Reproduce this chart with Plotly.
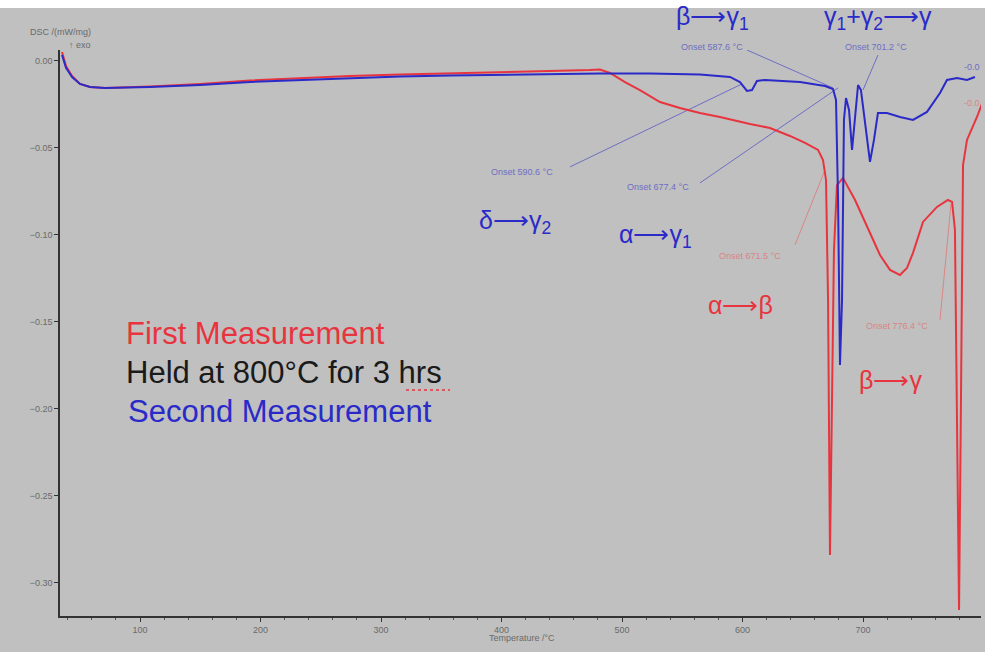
import plotly.graph_objects as go

# --- DSC heating curves: temperature (°C) and heat flow (mW/mg) ---
second_T = [35.3, 38.6, 43.6, 50.2, 58.5, 71.0, 108.3, 149.8, 191.3, 232.8, 274.3, 315.8,
            357.3, 398.8, 440.2, 481.7, 523.2, 564.7, 589.6, 597.9, 603.7, 607.9, 612.0,
            618.7, 647.7, 668.5, 675.1, 677.6, 679.3, 680.9, 682.6, 684.2, 685.9, 688.4,
            690.9, 693.4, 695.9, 698.3, 702.5, 705.8, 709.1, 712.4, 719.9, 730.7, 741.5,
            753.1, 763.9, 769.7, 778.0, 786.3, 792.9]
second_dsc = [0.0034, -0.0040, -0.0092, -0.0132, -0.0149, -0.0155, -0.0149, -0.0138, -0.0121,
              -0.0109, -0.0098, -0.0089, -0.0083, -0.0078, -0.0075, -0.0072, -0.0072, -0.0078,
              -0.0092, -0.0121, -0.0172, -0.0167, -0.0115, -0.0109, -0.0121, -0.0144, -0.0161,
              -0.0224, -0.0799, -0.1747, -0.1374, -0.0339, -0.0213, -0.0282, -0.0511, -0.0339,
              -0.0138, -0.0167, -0.0397, -0.0580, -0.0454, -0.0299, -0.0299, -0.0322, -0.0339,
              -0.0293, -0.0184, -0.0109, -0.0098, -0.0109, -0.0092]

first_T = [35.3, 38.6, 43.6, 50.2, 58.5, 71.0, 108.3, 149.8, 191.3, 232.8, 274.3, 315.8,
           357.3, 398.8, 440.2, 473.4, 481.7, 490.0, 502.5, 514.9, 531.5, 548.1, 564.7,
           581.3, 606.2, 622.8, 639.4, 651.9, 662.7, 666.8, 669.3, 671.0, 672.6, 674.3,
           675.9, 678.4, 683.4, 693.4, 703.3, 714.1, 722.4, 730.7, 736.5, 741.5, 749.8,
           761.4, 770.5, 773.9, 776.3, 778.0, 779.7, 781.3, 783.0, 786.3, 794.6, 801.2]
first_dsc = [0.0052, -0.0029, -0.0086, -0.0132, -0.0149, -0.0155, -0.0147, -0.0132, -0.0112,
             -0.0098, -0.0086, -0.0078, -0.0072, -0.0066, -0.0060, -0.0052, -0.0049, -0.0069,
             -0.0121, -0.0167, -0.0236, -0.0270, -0.0299, -0.0322, -0.0362, -0.0385, -0.0431,
             -0.0471, -0.0511, -0.0569, -0.0684, -0.1374, -0.2839, -0.1948, -0.1086, -0.0713,
             -0.0672, -0.0799, -0.0954, -0.1115, -0.1201, -0.1230, -0.1190, -0.1103, -0.0925,
             -0.0839, -0.0799, -0.0810, -0.0971, -0.1948, -0.3155, -0.1948, -0.0598, -0.0454,
             -0.0322, -0.0200]

# onset evaluation leader lines (start T, start DSC, end T, end DSC) and their labels
second_onsets = [
    ("Onset 590.6 °C", (456.8, -0.0609, 599.6, -0.0132)),
    ("Onset 677.4 °C", (564.7, -0.0701, 679.3, -0.0155)),
    ("Onset 587.6 °C", (603.7, 0.0063, 675.1, -0.0155)),
    ("Onset 701.2 °C", (712.4, 0.0034, 700.0, -0.0167)),
]
first_onsets = [
    ("Onset 671.5 °C", (643.6, -0.1057, 668.5, -0.0626)),
    ("Onset 776.4 °C", (763.9, -0.1489, 773.0, -0.0822)),
]

x_ticks = [100, 200, 300, 400, 500, 600, 700]
y_ticks = [0.00, -0.05, -0.10, -0.15, -0.20, -0.25, -0.30]

RED = "#e8343e"
BLUE = "#2a2ac8"
BLUE_THIN = "#6e6ec4"
RED_THIN = "#d98585"
TICK_GREY = "#6a6a6a"
FONT = "Liberation Sans, Arial, sans-serif"

W, H = 985, 652
M_L, M_R, M_T, M_B = 60, 4, 50, 36
PW, PH = W - M_L - M_R, H - M_T - M_B


def paper(xp, yp):
    """Pixel position on the page -> paper coordinates."""
    return (xp - M_L) / PW, (H - M_B - yp) / PH


fig = go.Figure()

for _, (t0, d0, t1, d1) in second_onsets:
    fig.add_trace(go.Scatter(x=[t0, t1], y=[d0, d1], mode="lines",
                             line=dict(color=BLUE_THIN, width=1), hoverinfo="skip"))
for _, (t0, d0, t1, d1) in first_onsets:
    fig.add_trace(go.Scatter(x=[t0, t1], y=[d0, d1], mode="lines",
                             line=dict(color=RED_THIN, width=1), hoverinfo="skip"))

fig.add_trace(go.Scatter(x=first_T, y=first_dsc, mode="lines", name="First Measurement",
                         line=dict(color=RED, width=2)))
fig.add_trace(go.Scatter(x=second_T, y=second_dsc, mode="lines", name="Second Measurement",
                         line=dict(color=BLUE, width=2)))

x_lo = 100 + (M_L - 140) / 1.205
x_hi = 100 + (W - M_R - 140) / 1.205
fig.update_xaxes(range=[x_lo, x_hi], tickvals=x_ticks, ticks="outside", ticklen=4,
                 tickcolor="#333", showline=True, linecolor="#333", linewidth=1.5,
                 showgrid=False, zeroline=False,
                 tickfont=dict(family=FONT, size=9, color=TICK_GREY),
                 minor=dict(dtick=20, ticks="outside", ticklen=2, tickcolor="#555"))
fig.update_yaxes(range=[-0.3190, 0.0063], tickvals=y_ticks, tickformat=".2f",
                 ticks="outside", ticklen=4, tickcolor="#333", showline=True,
                 linecolor="#333", linewidth=1.5, showgrid=False, zeroline=False,
                 tickfont=dict(family=FONT, size=9, color=TICK_GREY))

ann = []


def text(s, xp, yp, size, color, xanchor="center"):
    xr, yr = paper(xp, yp)
    ann.append(dict(text=s, x=xr, y=yr, xref="paper", yref="paper", showarrow=False,
                    xanchor=xanchor, yanchor="middle",
                    font=dict(family=FONT, size=size, color=color)))


# phase transition labels
text("β⟶γ<sub>1</sub>", 712, 18, 25, BLUE)
text("γ<sub>1</sub>+γ<sub>2</sub>⟶γ", 878, 18, 25, BLUE)
text("δ⟶γ<sub>2</sub>", 515, 222, 25, BLUE)
text("α⟶γ<sub>1</sub>", 655, 236, 25, BLUE)
text("α⟶β", 740, 305, 25, RED)
text("β⟶γ", 890, 380, 25, RED)

# legend-like captions
text("First Measurement", 124, 333, 31, RED, "left")
text("Held at 800°C for 3 hrs", 124, 372, 31, "#1a1a1a", "left")
text("Second Measurement", 126, 411, 31, BLUE, "left")

# onset labels
for (label, _), pos in zip(second_onsets, [(522, 172), (658, 187), (712, 47), (876, 47)]):
    text(label, pos[0], pos[1], 9, BLUE_THIN)
for (label, _), pos in zip(first_onsets, [(750, 256), (897, 326)]):
    text(label, pos[0], pos[1], 9, RED_THIN)

# axis captions
text("DSC /(mW/mg)", 60, 32, 9, TICK_GREY)
text("↑ exo", 80, 45, 9, TICK_GREY)
text("Temperature /°C", 522, 638, 9, TICK_GREY)
text("-0.0", 962, 67, 9, BLUE_THIN, "left")
text("-0.0", 962, 103, 9, RED_THIN, "left")

shapes = []
# white strip along the top edge of the page
y_top0 = paper(0, 8)[1]
y_top1 = paper(0, 0)[1]
shapes.append(dict(type="rect", xref="paper", yref="paper", x0=-0.1, x1=1.1,
                   y0=y_top0, y1=y_top1 + 0.01, fillcolor="white", line=dict(width=0)))
# red dotted underline under "hrs"
ux0, uy = paper(406, 390)
ux1, _ = paper(450, 390)
shapes.append(dict(type="line", xref="paper", yref="paper", x0=ux0, x1=ux1, y0=uy, y1=uy,
                   line=dict(color=RED, width=1.5, dash="dot")))

fig.update_layout(width=W, height=H, margin=dict(l=M_L, r=M_R, t=M_T, b=M_B),
                  paper_bgcolor="#c0c0c0", plot_bgcolor="#c0c0c0", showlegend=False,
                  annotations=ann, shapes=shapes, font=dict(family=FONT))

fig.write_html("out.html")
